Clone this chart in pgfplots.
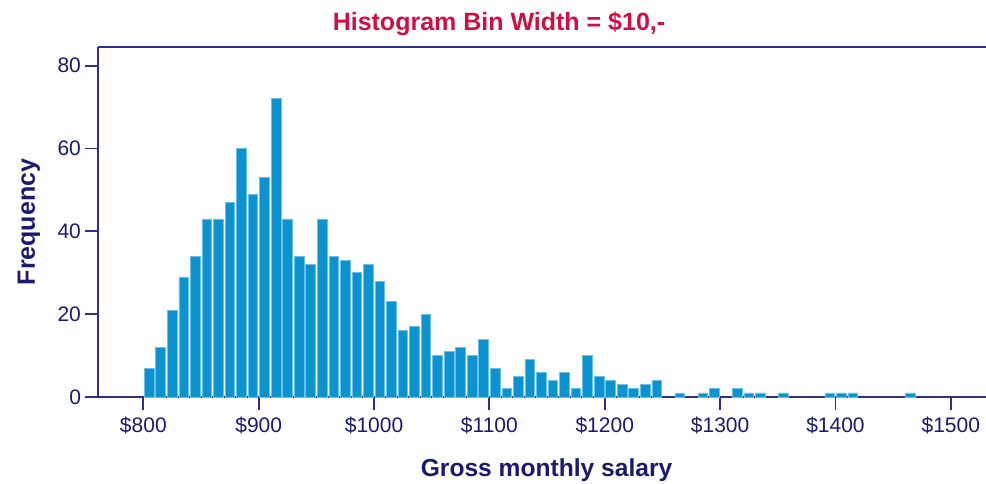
\documentclass[border=0pt]{standalone}
\usepackage{fontspec}
\setmainfont{Liberation Sans}
\usepackage{pgfplots}
\pgfplotsset{compat=1.18}

\definecolor{axiscol}{HTML}{2E2E8C}
\definecolor{labcol}{HTML}{1A1A70}
\definecolor{titlecol}{HTML}{D00F45}
\definecolor{barcol}{HTML}{0B93CF}
\definecolor{baredge}{HTML}{6CC0E8}

\begin{document}
\begin{tikzpicture}
\begin{axis}[
  scale only axis,
  width=444pt, height=175pt,
  xmin=760.7, xmax=1530.5,
  ymin=0, ymax=84.5,
  axis x line*=bottom,
  axis y line*=left,
  axis line style={axiscol, line width=0.9pt},
  tick align=outside,
  major tick length=6.5pt,
  tick style={axiscol, line width=0.9pt},
  xtick={800,900,...,1500},
  xticklabels={\$800,\$900,\$1000,\$1100,\$1200,\$1300,\$1400,\$1500},
  ytick={0,20,40,60,80},
  /pgf/number format/assume math mode=true,
  ticklabel style={font=\fontsize{10.5}{12}\selectfont, text=labcol},
  yticklabel style={xshift=1.5pt},
  clip=false,
]
\addplot[ybar, bar width=8.4, fill=barcol, draw=baredge, line width=0.3pt]
coordinates {
  (805,7)(815,12)(825,21)(835,29)(845,34)(855,43)(865,43)(875,47)
  (885,60)(895,49)(905,53)(915,72)(925,43)(935,34)(945,32)(955,43)
  (965,34)(975,33)(985,30)(995,32)(1005,28)(1015,23)(1025,16)(1035,17)
  (1045,20)(1055,10)(1065,11)(1075,12)(1085,10)(1095,14)(1105,7)(1115,2)
  (1125,5)(1135,9)(1145,6)(1155,4)(1165,6)(1175,2)(1185,10)(1195,5)
  (1205,4)(1215,3)(1225,2)(1235,3)(1245,4)(1265,1)(1285,1)(1295,2)
  (1315,2)(1325,1)(1335,1)(1355,1)(1395,1)(1405,1)(1415,1)(1465,1)
};
\draw[axiscol, line width=0.9pt] (rel axis cs:0,1) -- (rel axis cs:1,1);
\end{axis}
\node[anchor=base, text=titlecol, font=\fontsize{12.5}{15}\selectfont\bfseries]
  at (200.5pt,183.2pt) {Histogram Bin Width = \$10,-};
\node[anchor=base, text=labcol, font=\fontsize{12.3}{15}\selectfont\bfseries]
  at (224.3pt,-39.75pt) {Gross monthly salary};
\node[anchor=base, rotate=90, text=labcol, font=\fontsize{12.5}{15}\selectfont\bfseries]
  at (-31.5pt,87.5pt) {Frequency};
\pgfresetboundingbox
\useasboundingbox (-49pt,-43pt) rectangle (444pt,198.5pt);
\end{tikzpicture}
\end{document}
